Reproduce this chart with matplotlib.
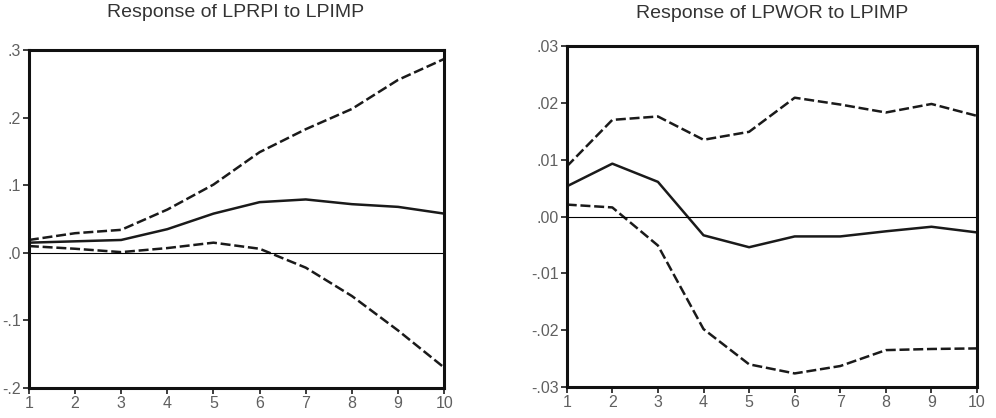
import matplotlib
matplotlib.use("Agg")
import matplotlib.pyplot as plt

plt.rcParams['font.family'] = ['Liberation Sans', 'DejaVu Sans']

periods = [1, 2, 3, 4, 5, 6, 7, 8, 9, 10]

# Response of LPRPI to LPIMP
prpi_resp = [0.015, 0.017, 0.019, 0.035, 0.058, 0.075, 0.079, 0.072, 0.068, 0.058]
prpi_upper = [0.019, 0.029, 0.034, 0.064, 0.101, 0.149, 0.183, 0.213, 0.256, 0.287]
prpi_lower = [0.010, 0.006, 0.001, 0.007, 0.015, 0.006, -0.022, -0.064, -0.115, -0.170]

# Response of LPWOR to LPIMP
pwor_resp = [0.0053, 0.0093, 0.0061, -0.0033, -0.0054, -0.0035, -0.0035, -0.0026, -0.0018, -0.0028]
pwor_upper = [0.0088, 0.0170, 0.0176, 0.0135, 0.0149, 0.0209, 0.0197, 0.0183, 0.0198, 0.0177]
pwor_lower = [0.0021, 0.0016, -0.0051, -0.0198, -0.0260, -0.0276, -0.0263, -0.0235, -0.0233, -0.0232]

left_ticks = [0.3, 0.2, 0.1, 0.0, -0.1, -0.2]
left_labels = [".3", ".2", ".1", ".0", "-.1", "-.2"]
right_ticks = [0.03, 0.02, 0.01, 0.0, -0.01, -0.02, -0.03]
right_labels = [".03", ".02", ".01", ".00", "-.01", "-.02", "-.03"]


def draw_panel(ax, resp, upper, lower, ticks, labels, ylim):
    ax.plot(periods, upper, color="#1a1a1a", lw=1.8, ls=(0, (4, 1.5)))
    ax.plot(periods, resp, color="#1a1a1a", lw=1.8)
    ax.plot(periods, lower, color="#1a1a1a", lw=1.8, ls=(0, (4, 1.5)))
    ax.axhline(0, color="black", lw=0.8)
    ax.set_xlim(1, 10)
    ax.set_ylim(*ylim)
    ax.set_xticks(periods)
    ax.set_xticklabels([str(p) for p in periods])
    ax.set_yticks(ticks)
    ax.set_yticklabels(labels)
    ax.tick_params(direction="out", length=4, width=1.2, colors="#1a1a1a",
                   labelcolor="#606060", labelsize=11.5, pad=2)
    for s in ax.spines.values():
        s.set_linewidth(2.2)
        s.set_color("#111111")


fig = plt.figure(figsize=(9.96, 4.18), dpi=100)
ax1 = fig.add_axes([0.029, 0.072, 0.417, 0.808])
ax2 = fig.add_axes([0.569, 0.074, 0.412, 0.816])

draw_panel(ax1, prpi_resp, prpi_upper, prpi_lower, left_ticks, left_labels, (-0.2, 0.3))
draw_panel(ax2, pwor_resp, pwor_upper, pwor_lower, right_ticks, right_labels, (-0.03, 0.03))

fig.text(0.237, 0.970, "Response of LPRPI to LPIMP", ha="center", va="center",
         fontsize=14, color="#333333")
fig.text(0.775, 0.968, "Response of LPWOR to LPIMP", ha="center", va="center",
         fontsize=14, color="#333333")

fig.savefig("out.png", dpi=100)
